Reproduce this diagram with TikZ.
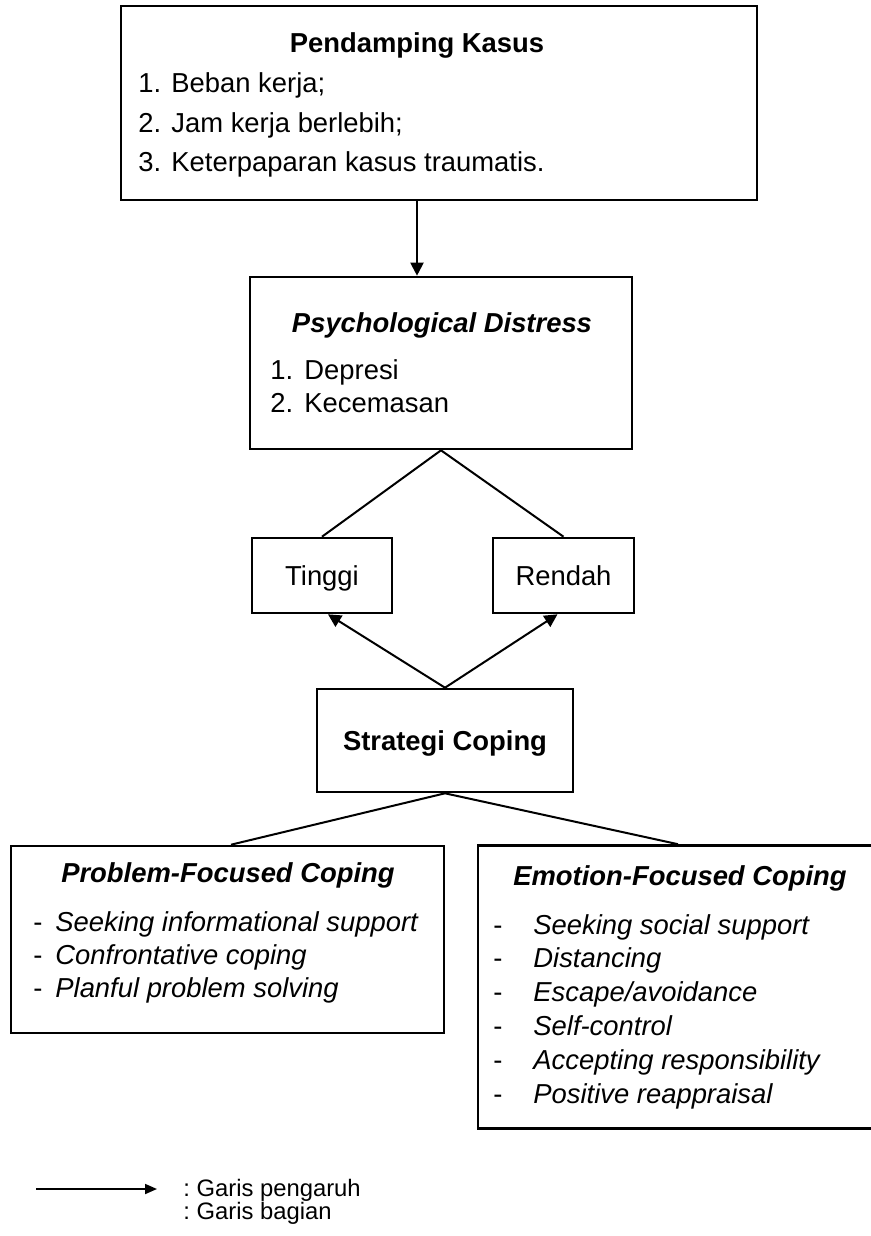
\documentclass[tikz,border=0pt]{standalone}
\usepackage{fontspec}
\setmainfont{Liberation Sans}
\usetikzlibrary{arrows.meta, positioning, calc}

\begin{document}
\begin{tikzpicture}[x=0.5pt, y=-0.5pt,
  box/.style={draw, line width=1.3pt, inner sep=0pt},
  txt/.style={inner sep=0pt, font=\fontsize{13.7}{16}\selectfont},
  itxt/.style={inner sep=0pt, font=\fontsize{13.7}{16}\selectfont\itshape},
  btxt/.style={inner sep=0pt, font=\fontsize{13.7}{16}\selectfont\bfseries},
  bitxt/.style={inner sep=0pt, font=\fontsize{13.7}{16}\selectfont\bfseries\itshape},
  ltxt/.style={inner sep=0pt, font=\fontsize{11.9}{14}\selectfont\frenchspacing},
  link/.style={line width=1pt},
  influence/.style={line width=1pt, -{Triangle[length=6.5pt, width=6.5pt]}}]
  \useasboundingbox (0,0) rectangle (871,1236);

  % boxes
  \node[box, minimum width=318pt, minimum height=97pt] (case) at (439,103) {};
  \node[box, minimum width=191pt, minimum height=86pt] (psych) at (441,363) {};
  \node[box, txt, text depth=0pt, minimum width=70pt, minimum height=37.5pt] (tinggi) at (322,575.5) {Tinggi};
  \node[box, txt, text depth=0pt, minimum width=70.5pt, minimum height=37.5pt] (rendah) at (563.5,575.5) {Rendah};
  \node[box, btxt, text depth=0pt, minimum width=128pt, minimum height=51.5pt] (strat) at (445,740.5) {Strategi Coping};
  \node[box, minimum width=216.5pt, minimum height=93.5pt] (problem) at (227.5,939.5) {};
  \node[box, minimum width=200pt, minimum height=141.5pt] (emotion) at (678,987) {};

  % Pendamping Kasus
  \node[btxt, anchor=base] (ttlCase) at (417,53) {Pendamping Kasus};
  \foreach \t [count=\i] in {{1. Beban kerja;}, {2. Jam kerja berlebih;}, {3. Keterpaparan kasus traumatis.}}
    \node[txt, anchor=base west] (case\i) at (138, {93+39.25*(\i-1)}) {\t};

  % Psychological Distress
  \node[bitxt, anchor=base] (ttlPsych) at (442,332) {Psychological Distress};
  \foreach \n/\t [count=\i] in {1./Depresi, 2./Kecemasan} {
    \node[txt, anchor=base west] (psyn\i) at (270, {379+33.5*(\i-1)}) {\n};
    \node[txt, anchor=base west] (psy\i) at (304, {379+33.5*(\i-1)}) {\t};
  }

  % Problem-Focused Coping
  \node[bitxt, anchor=base] (ttlProblem) at (228,882) {Problem-Focused Coping};
  \foreach \t [count=\i] in {Seeking informational support, Confrontative coping, Planful problem solving} {
    \node[txt, anchor=base west] (pfd\i) at (33, {931+33*(\i-1)}) {-};
    \node[itxt, anchor=base west] (pf\i) at (55, {931+33*(\i-1)}) {\t};
  }

  % Emotion-Focused Coping
  \node[bitxt, anchor=base] (ttlEmotion) at (680,885) {Emotion-Focused Coping};
  \foreach \t [count=\i] in {Seeking social support, Distancing, Escape/avoidance, Self-control, Accepting responsibility, Positive reappraisal} {
    \node[txt, anchor=base west] (efd\i) at (493, {934+33.8*(\i-1)}) {-};
    \node[itxt, anchor=base west] (ef\i) at (533, {934+33.8*(\i-1)}) {\t};
  }

  % connectors
  \draw[influence] (ttlCase |- case.south) -- (ttlCase |- psych.north);
  \draw[link] (psych.south) -- (tinggi.north);
  \draw[link] (psych.south) -- (rendah.north);
  \draw[influence] (strat.north) -- ([xshift=3pt]tinggi.south);
  \draw[influence] (strat.north) -- ([xshift=-3pt]rendah.south);
  \draw[link] (strat.south) -- ([xshift=1.75pt]problem.north);
  \draw[link] (strat.south) -- (emotion.north);

  % legend
  \coordinate (lgA) at (36,1189);
  \coordinate (lgB) at (157,1189);
  \draw[line width=0.9pt, -{Triangle[length=6pt, width=5pt]}] (lgA) -- (lgB);
  \node[ltxt, text depth=2pt, anchor=base west] (lgInf) at (183,1196.5) {: Garis pengaruh};
  \node[ltxt, text height=7pt, anchor=base west] (lgPart) at (183,1219) {: Garis bagian};
\end{tikzpicture}
\end{document}
